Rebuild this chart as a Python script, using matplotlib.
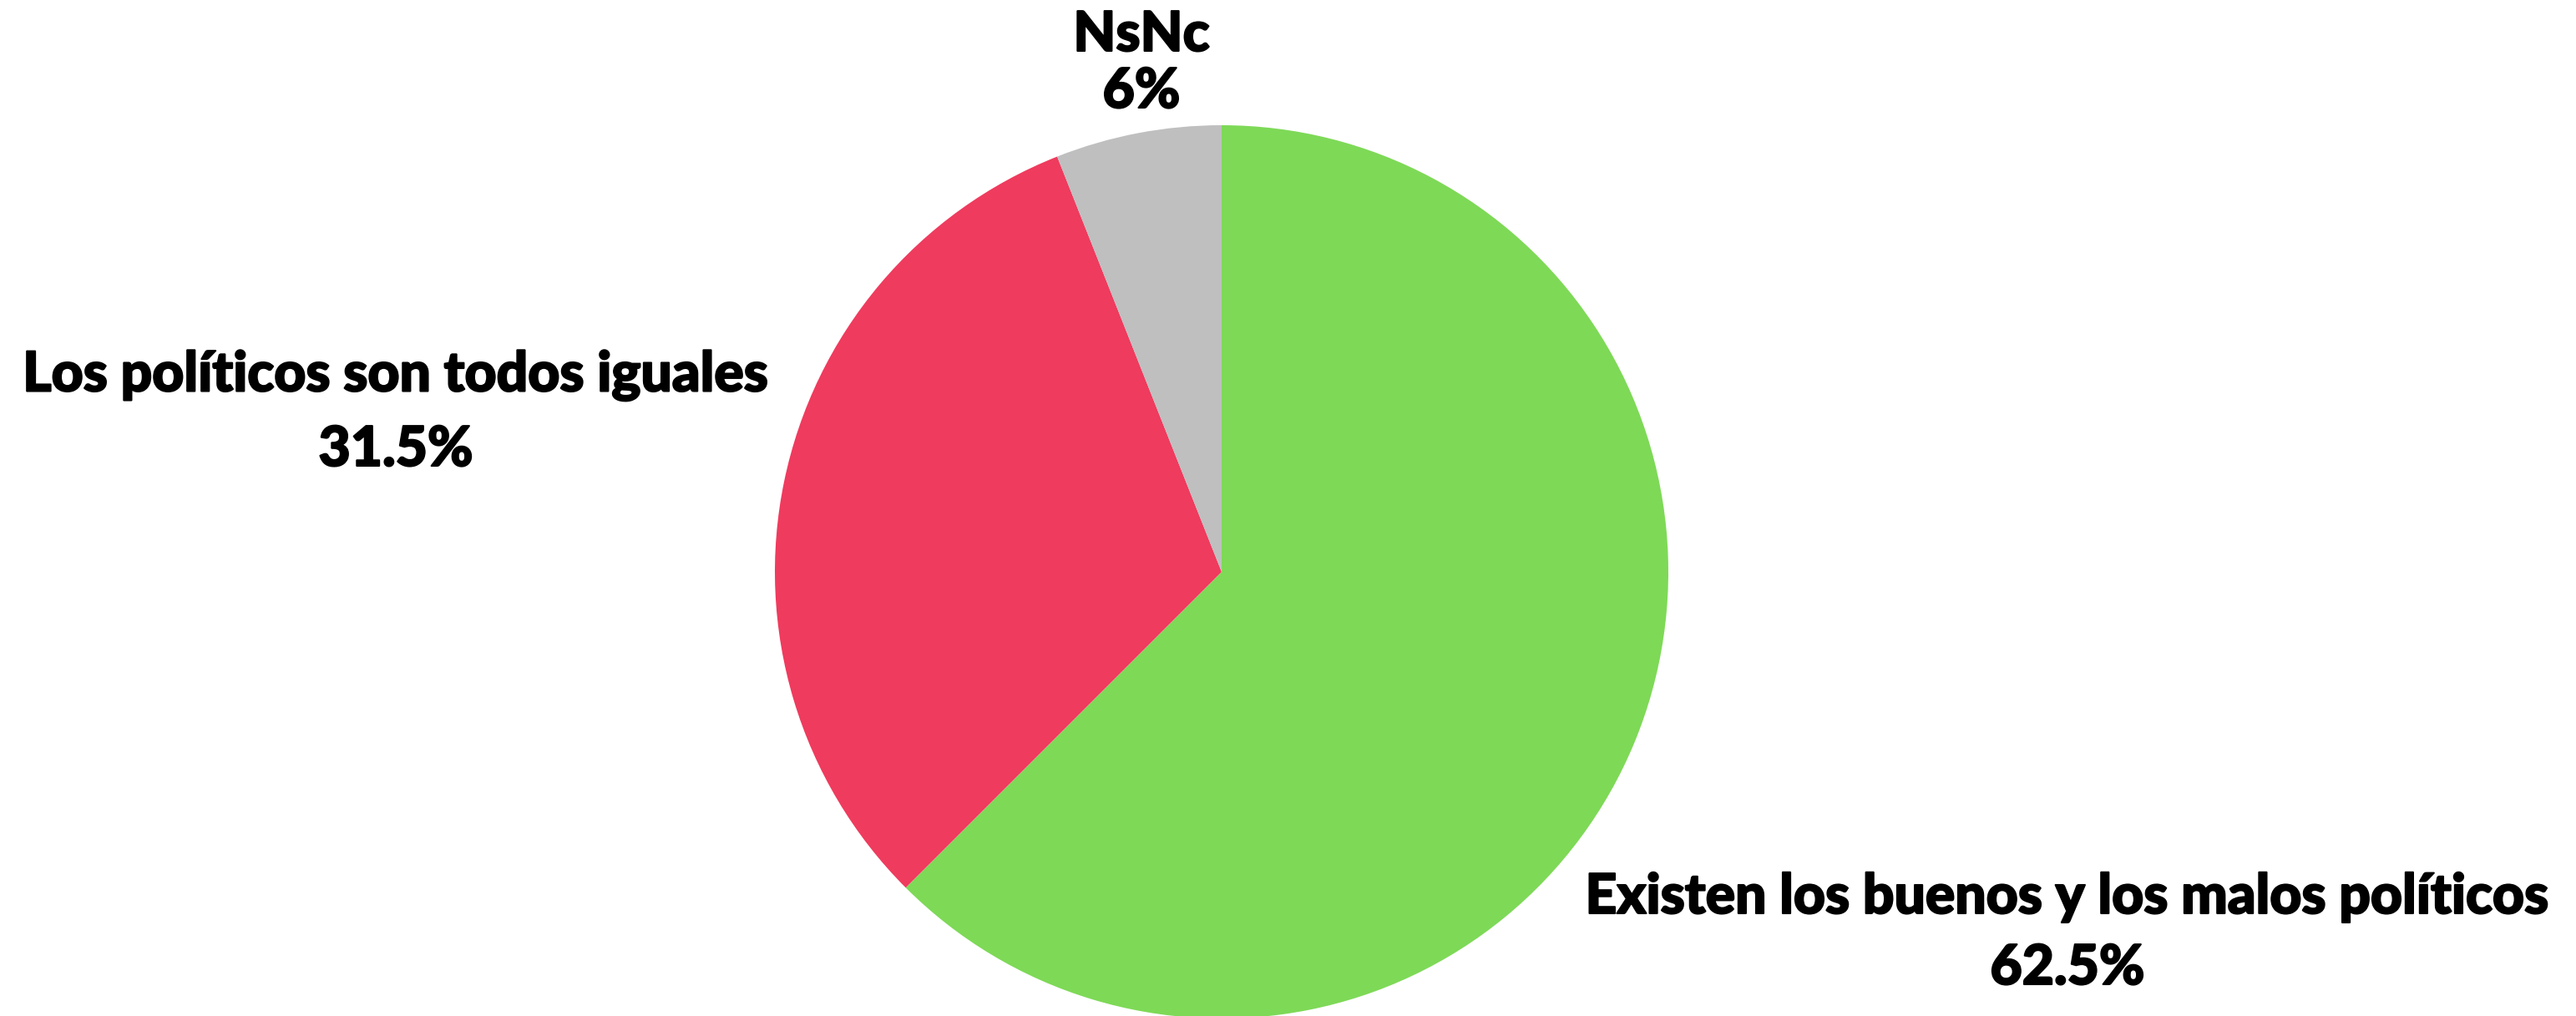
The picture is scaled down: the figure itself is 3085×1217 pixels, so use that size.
import matplotlib
matplotlib.use("Agg")
import matplotlib.pyplot as plt
import matplotlib.patheffects as pe

categories = ["Existen los buenos y los malos políticos", "Los políticos son todos iguales", "NsNc"]
values = [62.5, 31.5, 6.0]
pct_labels = ["62.5%", "31.5%", "6%"]
colors = ["#7ED957", "#EF3B5E", "#BFBFBF"]

W, H = 3085, 1217
fig = plt.figure(figsize=(W / 100, H / 100), dpi=100)
ax = fig.add_axes([0, 0, 1, 1])

ax.pie(values, colors=colors, startangle=90, counterclock=False,
       center=(1463, H - 685), radius=535, frame=True,
       wedgeprops=dict(linewidth=0))
ax.set_xlim(0, W)
ax.set_ylim(0, H)
ax.set_aspect("equal")
ax.axis("off")

font = dict(family=["Lato", "DejaVu Sans"], fontweight="black", fontsize=47.5, color="black",
            ha="center", va="center",
            path_effects=[pe.withStroke(linewidth=1.5, foreground="black")])
# label positions (pixel coords from top)
pos = [(2476, 1075, 1160), (474, 450, 539), (1367, 42, 110)]
for cat, pct, (x, y1, y2) in zip(categories, pct_labels, pos):
    ax.text(x, H - y1, cat, **font)
    ax.text(x, H - y2, pct, **font)

fig.savefig("out.png", dpi=100)
